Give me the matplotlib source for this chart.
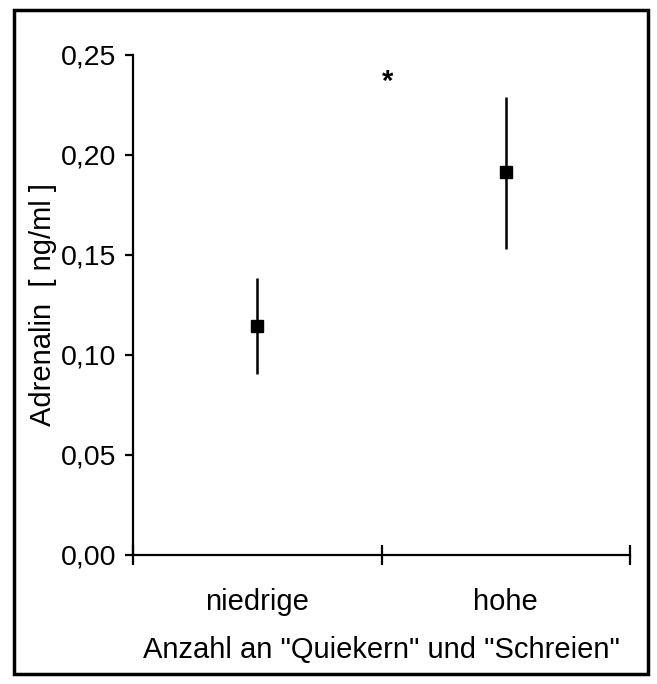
import matplotlib.pyplot as plt
from matplotlib.patches import Rectangle

plt.rcParams['font.family'] = ['Liberation Sans', 'DejaVu Sans']

# data
groups = ['niedrige', 'hohe']
group_pos = [0.25, 0.75]
means = [0.1143, 0.1913]
upper = [0.1385, 0.2290]
lower = [0.0905, 0.1530]
yticks = [0.00, 0.05, 0.10, 0.15, 0.20, 0.25]
ytick_labels = ['0,00', '0,05', '0,10', '0,15', '0,20', '0,25']
star_pos = (0.513, 0.2365)


def main():
    fig = plt.figure(figsize=(6.57, 6.84), dpi=100)
    ax = fig.add_axes([133 / 657, 1 - 555 / 684, (630 - 133) / 657, 500 / 684])

    # frame around the whole figure
    fig.patches.append(Rectangle((14 / 657, 10 / 684), 634 / 657, 664 / 684,
                                 transform=fig.transFigure, fill=False,
                                 edgecolor='black', linewidth=2.5))

    err_lo = [m - l for m, l in zip(means, lower)]
    err_hi = [u - m for m, u in zip(means, upper)]
    ax.errorbar(group_pos, means, yerr=[err_lo, err_hi], fmt='s', color='black',
                ecolor='black', elinewidth=1.8, markersize=9, capsize=0)

    ax.text(star_pos[0], star_pos[1], '*', ha='center', va='center',
            fontsize=21, fontweight='bold')

    ax.set_xlim(0, 1)
    ax.set_ylim(0, 0.25)
    ax.set_yticks(yticks)
    ax.set_yticklabels(ytick_labels)
    ax.set_xticks([0, 0.5, 1])
    ax.set_xticklabels([])
    ax.set_xticks(group_pos, minor=True)
    ax.set_xticklabels(groups, minor=True)

    ax.spines['top'].set_visible(False)
    ax.spines['right'].set_visible(False)
    ax.spines['left'].set_linewidth(1.6)
    ax.spines['bottom'].set_linewidth(1.6)

    ax.tick_params(axis='y', direction='out', length=6, width=1.6, pad=6,
                   labelsize=20.5)
    ax.tick_params(axis='x', which='major', direction='inout', length=15,
                   width=1.6)
    ax.tick_params(axis='x', which='minor', length=0, pad=24, labelsize=21)

    ax.set_ylabel('Adrenalin  [ ng/ml ]', fontsize=21, labelpad=3)
    ax.set_xlabel('Anzahl an "Quiekern" und "Schreien"', fontsize=21, labelpad=14)

    fig.savefig('out.png', dpi=100)


if __name__ == "__main__":
    main()
